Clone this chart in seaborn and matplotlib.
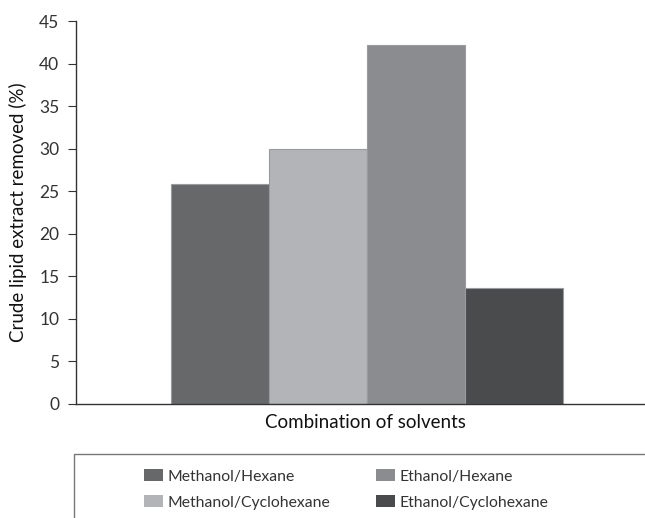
import matplotlib
matplotlib.use("Agg")
import matplotlib.pyplot as plt
import seaborn as sns
import pandas as pd
from matplotlib.patches import Rectangle

# Solvent combinations and crude lipid extract removed (%)
solvents = ["Methanol/Hexane", "Methanol/Cyclohexane", "Ethanol/Hexane", "Ethanol/Cyclohexane"]
removed = [25.9, 30.0, 42.2, 13.6]
colors = ["#67686a", "#b3b4b7", "#8b8c8f", "#4a4b4d"]
yticks = [0, 5, 10, 15, 20, 25, 30, 35, 40, 45]

df = pd.DataFrame({"group": ["Combination of solvents"] * 4,
                   "solvent": solvents, "removed": removed})

sns.set_style("white")
plt.rcParams["font.family"] = ["Lato", "DejaVu Sans"]

fig = plt.figure(figsize=(6.45, 5.18), dpi=100)
ax = fig.add_axes([76 / 645, 1 - 404 / 518, (645 - 76) / 645, 383 / 518])

sns.barplot(data=df, x="group", y="removed", hue="solvent", hue_order=solvents,
            palette=colors, width=0.69, saturation=1, ax=ax, legend=False,
            edgecolor="#9a9b9e", linewidth=0.8)

ax.set_xlim(-0.512, 0.49)
ax.set_ylim(0, 45)
ax.set_yticks(yticks)
ax.set_yticklabels([str(t) for t in yticks], fontsize=12.5, color="#333333")
ax.tick_params(axis="y", direction="out", length=6, width=0.8, color="#333333", pad=6, left=True)
ax.tick_params(axis="x", bottom=False, labelbottom=False)
ax.set_xlabel("Combination of solvents", fontsize=13.5, color="#111111")
ax.xaxis.set_label_coords((365 - 76) / (645 - 76), -10 / 383)
ax.set_ylabel("Crude lipid extract removed (%)", fontsize=13.5, color="#111111")
ax.yaxis.set_label_coords(-49 / 569, 0.5)

for side in ["top", "right"]:
    ax.spines[side].set_visible(False)
for side in ["left", "bottom"]:
    ax.spines[side].set_color("#333333")
    ax.spines[side].set_linewidth(1.0)

# Legend box open at the right and bottom edges
fig.patches.append(Rectangle((74 / 645, -0.05), 1.0, 1 - 454 / 518 + 0.05,
                             transform=fig.transFigure, fill=False,
                             edgecolor="#777777", linewidth=1.0))

handles = [Rectangle((0, 0), 1, 1, facecolor=c, edgecolor="none") for c in colors]
fig.legend(handles, solvents, ncol=2, loc="upper left",
           bbox_to_anchor=(130 / 645, 1 - 455 / 518), frameon=False,
           fontsize=11.3, handlelength=1.2, handleheight=0.8, handletextpad=0.3,
           columnspacing=2.9, labelspacing=0.75, labelcolor="#333333")

fig.savefig("out.png", dpi=100)
